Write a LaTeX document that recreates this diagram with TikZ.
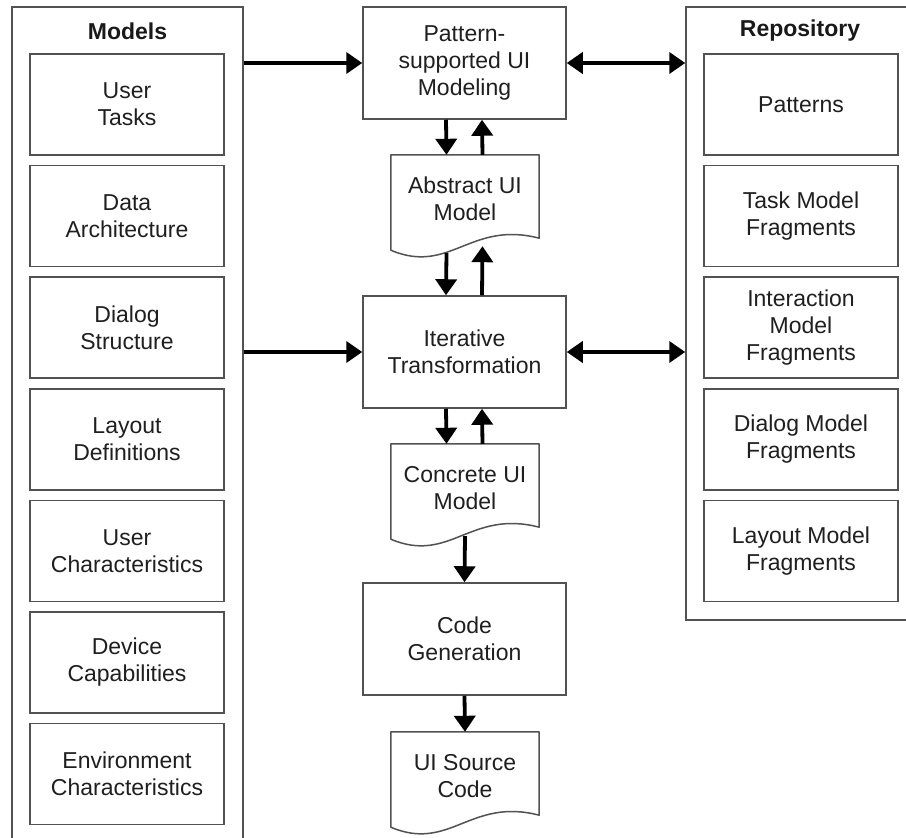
\documentclass[tikz,border=0pt]{standalone}
\usepackage{fontspec}
\setmainfont{Liberation Sans}
\usetikzlibrary{arrows.meta,calc}
\begin{document}
\begin{tikzpicture}[x=1pt,y=-1pt,
  font=\fontsize{23}{27}\selectfont,
  frame/.style={draw=black!68, line width=1.5pt},
  inbox/.style={frame, rectangle, minimum width=194pt, minimum height=101pt, align=center, text=black!88, inner sep=0pt},
  cbox/.style={frame, rectangle, minimum width=203pt, minimum height=112pt, align=center, text=black!88, inner sep=0pt},
  doc/.style={rectangle, minimum width=148pt, minimum height=88pt, align=center, text=black!88, inner sep=0pt},
  title/.style={font=\fontsize{23}{27}\selectfont\bfseries, text=black!90},
  arr/.style={line width=3.8pt, -{Triangle[width=21pt,length=16pt]}},
  darr/.style={line width=3.8pt, {Triangle[width=21pt,length=16pt]}-{Triangle[width=21pt,length=16pt]}}
]
\clip (0,0) rectangle (906,838);
\fill[white] (0,0) rectangle (906,838);

% outer groups
\node[frame, rectangle, minimum width=231pt, minimum height=843pt, inner sep=0pt] (models) at (127.5,428.5) {};
\node[frame, rectangle, minimum width=229pt, minimum height=613pt, inner sep=0pt] (repo) at (800.5,313.5) {};
\node[title] (mt) at (127.5,31) {Models};
\node[title] (rt) at (800,31) {Repository};

% left inner boxes
\node[inbox] (m1) at (127,104.5) {User\\Tasks};
\node[inbox] (m2) at (127,216.1) {Data\\Architecture};
\node[inbox] (m3) at (127,327.7) {Dialog\\Structure};
\node[inbox] (m4) at (127,439.3) {Layout\\Definitions};
\node[inbox] (m5) at (127,550.9) {User\\Characteristics};
\node[inbox] (m6) at (127,662.5) {Device\\Capabilities};
\node[inbox] (m7) at (127,774.1) {Environment\\Characteristics};

% right inner boxes
\node[inbox] (r1) at (801,104.5) {Patterns};
\node[inbox] (r2) at (801,216.1) {Task Model\\Fragments};
\node[inbox] (r3) at (801,327.7) {Interaction\\Model\\Fragments};
\node[inbox] (r4) at (801,439.3) {Dialog Model\\Fragments};
\node[inbox] (r5) at (801,550.9) {Layout Model\\Fragments};

% center column
\node[cbox] (pm) at (464.5,63) {Pattern-\\supported UI\\Modeling};
\node[doc] (abs) at (465,199) {Abstract UI\\Model};
\node[cbox] (iter) at (464.5,352) {Iterative\\Transformation};
\node[doc] (con) at (465,488) {Concrete UI\\Model};
\node[cbox] (code) at (464.5,639) {Code\\Generation};
\node[doc] (src) at (465,776) {UI Source\\Code};

% document outlines
\foreach \n in {abs,con,src}{
  \draw[frame, line join=round] (\n.north west) -- (\n.north east) -- ($(\n.south east)+(0,-5)$)
    .. controls ($(\n.south east)+(-69,-23)$) and ($(\n.south west)+(59,32)$) .. ($(\n.south west)+(0,7)$) -- cycle;
}

% vertical connectors
\draw[arr] ([xshift=-18.5pt]pm.south) -- ([xshift=-18.5pt]abs.north);
\draw[arr] ([xshift=17.5pt]abs.north) -- ([xshift=17.5pt]pm.south);
\draw[arr] ($(abs.south)+(-18.5,10)$) -- ([xshift=-18.5pt]iter.north);
\draw[arr] ([xshift=17.5pt]iter.north) -- ($(abs.south)+(17.5,3)$);
\draw[arr] ([xshift=-18.5pt]iter.south) -- ([xshift=-18.5pt]con.north);
\draw[arr] ([xshift=17.5pt]con.north) -- ([xshift=17.5pt]iter.south);
\draw[arr] ($(con.south)+(0,4)$) -- (code.north);
\draw[arr] (code.south) -- (src.north);

% horizontal connectors
\draw[arr] (models.east |- pm.west) -- (pm.west);
\draw[arr] (models.east |- iter.west) -- (iter.west);
\draw[darr] (pm.east) -- (repo.west |- pm.east);
\draw[darr] (iter.east) -- (repo.west |- iter.east);
\end{tikzpicture}
\end{document}
